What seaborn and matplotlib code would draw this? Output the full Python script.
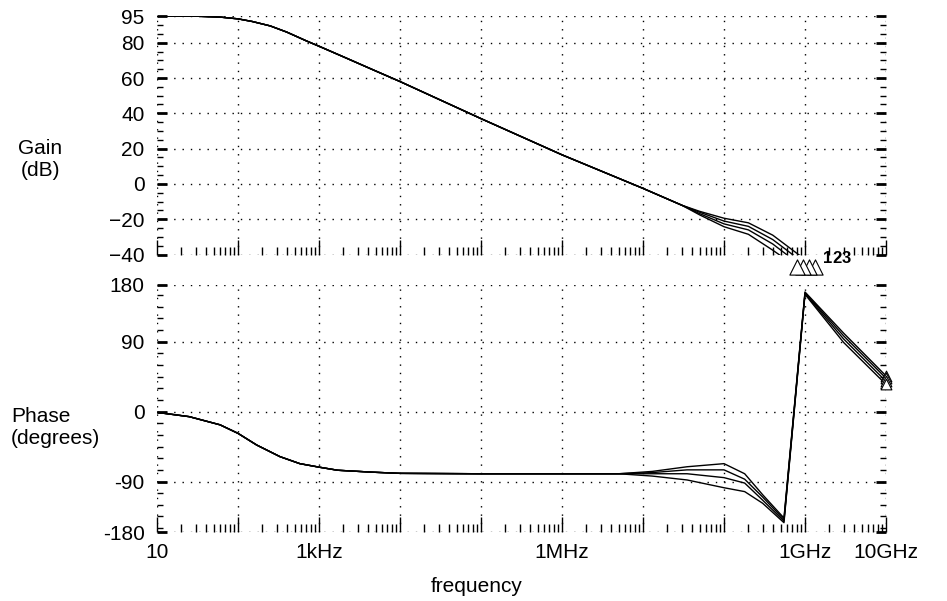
import numpy as np
import pandas as pd
import matplotlib
matplotlib.use("Agg")
import matplotlib.pyplot as plt
import matplotlib.ticker as mticker
import seaborn as sns

# ---- data ----
cases = ["1", "2", "3", "4"]

# gain (dB): shared part up to 30MHz, then one tail per case
gain_freq_shared = [10, 30, 60, 100, 150, 250, 400, 700, 1e3, 2e3, 5e3, 1e4,
                    1e5, 1e6, 1e7, 3e7]
gain_shared = [95, 95, 94.5, 93.5, 92, 89.5, 86, 81, 78, 72, 64, 58,
               37, 16.5, -2.5, -12]
gain_freq_tail = [5e7, 1e8, 2e8, 4e8]
gain_tail = [[-15.5, -19.4, -22.0, -29.0],
             [-16.0, -21.0, -24.0, -31.5],
             [-16.8, -22.6, -26.0, -34.0],
             [-17.5, -24.2, -28.5, -37.5]]
gain_end_freq = [1.33e9, 1.12e9, 9.4e8, 7.9e8]
gain_end = [-47, -47, -47, -47]

# phase (degrees)
phase_freq_shared = [10, 25, 60, 100, 170, 330, 580, 1e3, 1.7e3, 4.6e3, 1e4,
                     1e5, 1e6, 5e6]
phase_shared = [-1, -6.5, -17, -28, -43, -58, -67, -71.5, -75.5, -78, -79.5,
                -80, -80, -80]
phase_freq_tail = [1.3e7, 3.5e7, 1e8, 1.8e8, 3e8, 5.5e8, 1e9, 3e9, 1e10]
phase_tail = [[-77, -71, -67, -80, -107, -137, 154, 101, 46],
              [-78.5, -75, -75, -87, -110, -139, 153, 97.5, 43],
              [-80, -80, -85, -92, -114, -141, 152, 93.5, 39],
              [-83, -88, -98, -103, -118, -143, 151, 89, 35]]

decades = [10, 100, 1e3, 1e4, 1e5, 1e6, 1e7, 1e8, 1e9, 1e10]
decade_labels = ["10", "", "1kHz", "", "", "1MHz", "", "", "1GHz", "10GHz"]
minor_subs = [2, 3, 4, 5, 6, 7, 8, 9]
gain_ticks = [-40, -20, 0, 20, 40, 60, 80, 95]
phase_lim = (-155, 163)
phase_ticks = [-155, -90, 0, 90, 163]
phase_tick_labels = ["-180", "-90", "0", "90", "180"]
marker_labels = ["1", "2", "3"]

# ---- long-form tables ----
rows_g, rows_p = [], []
for i, c in enumerate(cases):
    fg = gain_freq_shared + gain_freq_tail + [gain_end_freq[i]]
    vg = gain_shared + gain_tail[i] + [gain_end[i]]
    rows_g += [{"case": c, "freq": f, "gain": v} for f, v in zip(fg, vg)]
    fp = phase_freq_shared + phase_freq_tail
    vp = phase_shared + phase_tail[i]
    rows_p += [{"case": c, "freq": f, "phase": v} for f, v in zip(fp, vp)]
gain_df = pd.DataFrame(rows_g)
phase_df = pd.DataFrame(rows_p)

sns.set_style("ticks")
plt.rcParams["font.family"] = ["Liberation Sans", "DejaVu Sans"]
plt.rcParams["text.color"] = "black"
plt.rcParams["xtick.color"] = "black"
plt.rcParams["ytick.color"] = "black"
plt.rcParams["xtick.labelcolor"] = "black"
plt.rcParams["ytick.labelcolor"] = "black"

W, H = 947, 601
fig = plt.figure(figsize=(W / 100, H / 100), dpi=100)
ax_g = fig.add_axes([157 / W, 1 - 254.6 / H, 729 / W, 238.4 / H])
ax_p = fig.add_axes([157 / W, 1 - 532 / H, 729 / W, 247 / H])

pal = ["black"] * len(cases)
sns.lineplot(data=gain_df, x="freq", y="gain", hue="case", palette=pal,
             estimator=None, sort=False, legend=False, lw=1.0, ax=ax_g)
sns.lineplot(data=phase_df, x="freq", y="phase", hue="case", palette=pal,
             estimator=None, sort=False, legend=False, lw=1.0, ax=ax_p)

# end markers (hollow triangles)
ax_g.scatter(gain_end_freq, gain_end, marker="^", s=120, facecolor="white",
             edgecolor="black", linewidth=0.8, clip_on=False, zorder=5)
ax_p.scatter([phase_freq_tail[-1]] * len(cases), [t[-1] for t in phase_tail],
             marker="^", s=60, facecolor="white", edgecolor="black",
             linewidth=0.8, clip_on=False, zorder=5)
for lbl, xoff in zip(marker_labels, [823, 832.5, 842]):
    fig.text(xoff / W, 1 - 258 / H, lbl, fontsize=12, fontweight="bold",
             ha="left", va="center")

minor_locs = [d * s for d in decades[:-1] for s in minor_subs]
dots = (0, (1, 5))
for ax in (ax_g, ax_p):
    ax.set_xscale("log")
    ax.set_xlim(10, 1e10)
    for s in ax.spines.values():
        s.set_visible(False)
    ax.xaxis.set_major_locator(mticker.FixedLocator(decades))
    ax.xaxis.set_minor_locator(mticker.FixedLocator(minor_locs))
    ax.xaxis.set_minor_formatter(mticker.NullFormatter())
    ax.grid(True, which="major", color="black", lw=1.0, ls=dots)
    ax.tick_params(axis="x", which="major", direction="in", length=11, width=1,
                   bottom=True, top=False)
    ax.tick_params(axis="x", which="minor", direction="in", length=6, width=1,
                   bottom=True, top=False)
    ax.tick_params(axis="y", which="major", direction="in", length=7, width=2,
                   left=True, right=True, labelsize=15, pad=9)
    ax.tick_params(axis="y", which="minor", direction="in", length=4, width=1,
                   left=True, right=True)
    ax.set_xlabel("")
    ax.set_ylabel("")

ax_g.set_ylim(-40, 95)
ax_g.yaxis.set_major_locator(mticker.FixedLocator(gain_ticks))
ax_g.yaxis.set_minor_locator(mticker.MultipleLocator(5))
ax_g.xaxis.set_major_formatter(mticker.NullFormatter())

ax_p.set_ylim(*phase_lim)
ax_p.yaxis.set_major_locator(mticker.FixedLocator(phase_ticks))
ax_p.yaxis.set_major_formatter(mticker.FixedFormatter(phase_tick_labels))
ax_p.yaxis.set_minor_locator(mticker.MultipleLocator(15))
ax_p.xaxis.set_major_formatter(mticker.FixedFormatter(decade_labels))
ax_p.tick_params(axis="x", labelsize=15, pad=8)

fig.text(40 / W, 1 - 160 / H, "Gain\n(dB)", fontsize=15, ha="center", va="center",
         multialignment="center")
fig.text(11 / W, 1 - 428 / H, "Phase\n(degrees)", fontsize=15, ha="left", va="center",
         multialignment="left")
fig.text(477 / W, 1 - 587 / H, "frequency", fontsize=15, ha="center", va="center")

fig.savefig("out.png", dpi=100)
